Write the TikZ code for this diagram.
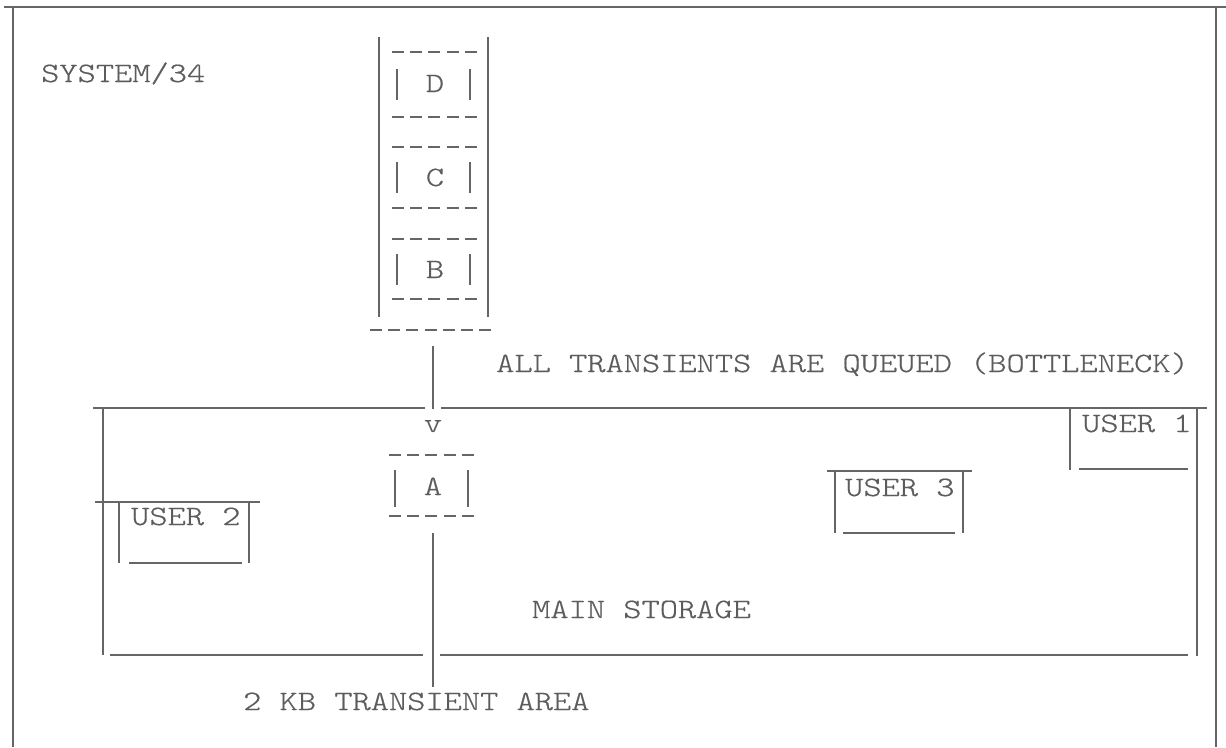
\documentclass[tikz,border=0pt]{standalone}
\usepackage{fontspec}
\newfontfamily\typewriter{Latin Modern Mono Light}[FakeStretch=1.24, FakeBold=0.6]
\definecolor{ink}{gray}{0.40}
\definecolor{typeink}{gray}{0.36}

\begin{document}
\begin{tikzpicture}[x=1pt, y=-1pt, line width=2.4pt, line cap=butt, draw=ink,
  typed/.style={inner sep=0pt, text=typeink, font=\typewriter\fontsize{28}{34}\selectfont},
  rule/.style={draw=ink, line width=2.4pt},
  bar/.style={draw=ink, line width=2.0pt},
  hyphens/.style={draw=ink, line width=2.8pt, dash pattern=on 12pt off 6.2pt}]

  %% ════ 外框 ════
  \draw[rule] (4,7) -- (1226,7);
  \draw[rule] (13,7) -- (13,747);
  \draw[rule] (1216,7) -- (1216,747);

  %% ════ 队列柱（D / C / B）════
  \draw[rule] (379,37) -- (379,317);
  \draw[rule] (488,37) -- (488,317);
  \draw[hyphens] (370,330) -- (494,330);   % 7 个 "-"

  \draw[hyphens] (392,52) -- (478,52);
  \draw[bar] (397,69) -- (397,100);
  \draw[bar] (470,69) -- (470,100);
  \draw[hyphens] (392,117) -- (478,117);

  \draw[hyphens] (392,147) -- (478,147);
  \draw[bar] (397,162) -- (397,193);
  \draw[bar] (470,162) -- (470,193);
  \draw[hyphens] (392,208) -- (478,208);

  \draw[hyphens] (392,239) -- (478,239);
  \draw[bar] (397,254) -- (397,285);
  \draw[bar] (470,254) -- (470,285);
  \draw[hyphens] (392,299) -- (478,299);

  %% ════ 主存储区 ════
  \draw[rule] (93,408) -- (425,408);
  \draw[rule] (441,408) -- (1207,408);
  \draw[rule] (103,408) -- (103,655);
  \draw[rule] (110,655) -- (423,655);
  \draw[rule] (440,655) -- (1188,655);
  \draw[rule] (1197,408) -- (1197,656);

  %% ════ 暂存块 A ════
  \draw[hyphens] (389,455) -- (475,455);
  \draw[bar] (395,470) -- (395,507);
  \draw[bar] (468,470) -- (468,507);
  \draw[hyphens] (389,516) -- (475,516);

  %% ════ 用户分区 ════
  \draw[rule] (1070,408) -- (1070,470);   % USER 1
  \draw[rule] (1079,469) -- (1188,469);
  \draw[rule] (827,471) -- (972,471);     % USER 3
  \draw[bar] (835,472) -- (835,533);
  \draw[bar] (963,472) -- (963,533);
  \draw[rule] (843,533) -- (955,533);
  \draw[rule] (95,502) -- (260,502);      % USER 2
  \draw[bar] (119,503) -- (119,563);
  \draw[bar] (249,503) -- (249,563);
  \draw[rule] (129,563) -- (242,563);

  %% ════ 文字 ════
  \node[typed, anchor=base west] (sys) at (40,82) {SYSTEM/34};
  \node[typed, anchor=base] (D) at (435,92) {D};
  \node[typed, anchor=base] (C) at (435,186) {C};
  \node[typed, anchor=base] (B) at (435,278) {B};
  \node[typed, anchor=base west] (queued) at (495,372) {ALL TRANSIENTS ARE QUEUED (BOTTLENECK)};
  \node[typed, anchor=base] (arrowv) at (433,432) {v};
  \node[typed, anchor=base] (A) at (433,495) {A};
  \node[typed, anchor=base west] (user1) at (1081,432) {USER 1};
  \node[typed, anchor=base west] (user3) at (844,496) {USER 3};
  \node[typed, anchor=base west] (user2) at (130,525) {USER 2};
  \node[typed, anchor=base west] (storage) at (531,618) {MAIN STORAGE};
  \node[typed, anchor=base west] (area) at (242,710) {2 KB TRANSIENT AREA};

  %% ════ 连线 ════
  \coordinate (queueout) at (433,346);
  \coordinate (gapin) at (arrowv.north |- 0,409);
  \coordinate (aout) at (A.south |- 0,533);
  \coordinate (areain) at (A.south |- 0,687);
  \draw[rule] (queueout) -- (gapin);
  \draw[rule] (aout) -- (areain);

  % 钉死画布
  \pgfresetboundingbox
  \path[use as bounding box] (0,0) rectangle (1226,747);
\end{tikzpicture}
\end{document}
